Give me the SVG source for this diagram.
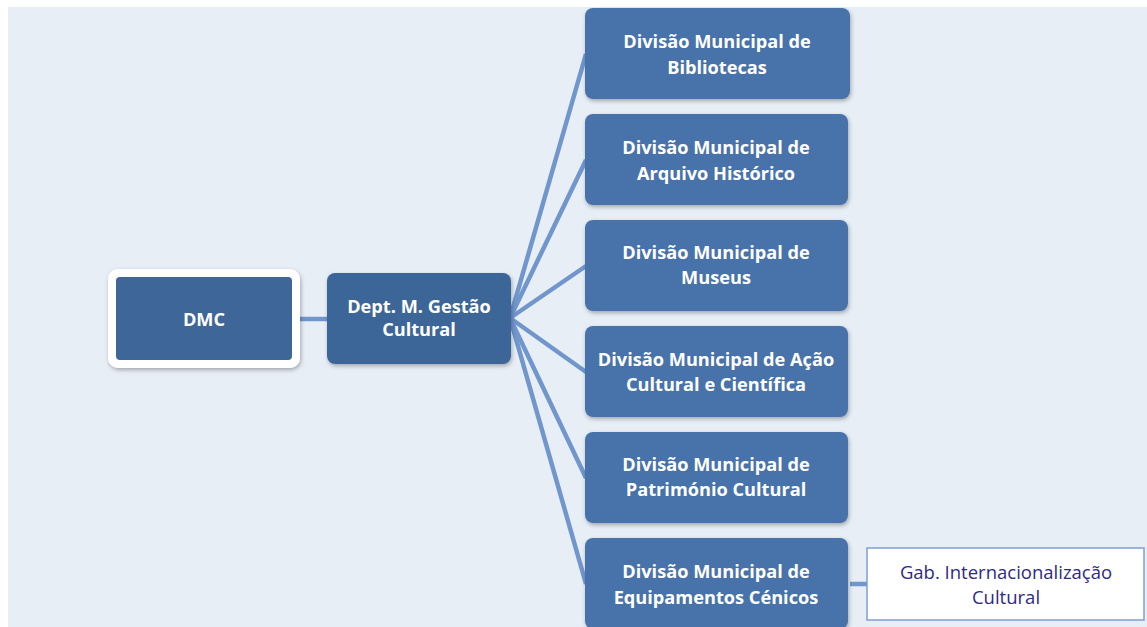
<svg xmlns="http://www.w3.org/2000/svg" width="1147" height="627" viewBox="0 0 1147 627">
<defs>
<filter id="sh" x="-10%" y="-10%" width="125%" height="130%">
<feDropShadow dx="1" dy="2" stdDeviation="2" flood-color="#000" flood-opacity="0.3"/>
</filter>
<style>
.div{fill:#4672AA;filter:url(#sh)}
.dark{fill:#3E6698;filter:url(#sh)}
.t{font-family:"Open Sans","Liberation Sans",sans-serif;font-weight:bold;font-size:18.2px;fill:#fff;text-anchor:middle}
.c{stroke:#7196CC;stroke-width:4.5;fill:none}
.g{font-family:"Open Sans","Liberation Sans",sans-serif;font-size:18.5px;fill:#2E2A85;text-anchor:middle}
</style>
</defs>
<rect x="0" y="0" width="1147" height="627" fill="#fff"/>
<rect x="8" y="7" width="1139" height="620" fill="#E7EEF6"/>
<g id="connectors">
<line class="c" x1="300" y1="319" x2="327" y2="319"/>
<line class="c" x1="510" y1="318" x2="586" y2="54"/>
<line class="c" x1="510" y1="318" x2="586" y2="160"/>
<line class="c" x1="510" y1="318" x2="586" y2="266"/>
<line class="c" x1="510" y1="318" x2="586" y2="372"/>
<line class="c" x1="510" y1="318" x2="586" y2="478"/>
<line class="c" x1="510" y1="318" x2="586" y2="584"/>
<line class="c" x1="850" y1="584" x2="867" y2="584"/>
</g>
<g id="dmc">
<rect x="108" y="269" width="192" height="99" rx="10" fill="#fff" filter="url(#sh)"/>
<rect x="116" y="277" width="176" height="83" rx="4" fill="#3E6698"/>
<text class="t" x="204" y="326">DMC</text>
</g>
<g id="dept">
<rect class="dark" x="327" y="273" width="184" height="91" rx="8"/>
<text class="t" x="419" y="313">Dept. M. Gestão</text>
<text class="t" x="419" y="336">Cultural</text>
</g>
<g id="d1">
<rect class="div" x="585" y="8" width="265" height="91" rx="8"/>
<text class="t" x="717" y="48">Divisão Municipal de</text>
<text class="t" x="717" y="74">Bibliotecas</text>
</g>
<g id="d2">
<rect class="div" x="585" y="114" width="263" height="91" rx="8"/>
<text class="t" x="716" y="154">Divisão Municipal de</text>
<text class="t" x="716" y="180">Arquivo Histórico</text>
</g>
<g id="d3">
<rect class="div" x="585" y="220" width="263" height="91" rx="8"/>
<text class="t" x="716" y="259">Divisão Municipal de</text>
<text class="t" x="716" y="284">Museus</text>
</g>
<g id="d4">
<rect class="div" x="585" y="326" width="263" height="91" rx="8"/>
<text class="t" x="716" y="366">Divisão Municipal de Ação</text>
<text class="t" x="716" y="391">Cultural e Científica</text>
</g>
<g id="d5">
<rect class="div" x="585" y="432" width="263" height="91" rx="8"/>
<text class="t" x="716" y="471">Divisão Municipal de</text>
<text class="t" x="716" y="496">Património Cultural</text>
</g>
<g id="d6">
<rect class="div" x="585" y="538" width="263" height="91" rx="8"/>
<text class="t" x="716" y="578">Divisão Municipal de</text>
<text class="t" x="716" y="604">Equipamentos Cénicos</text>
</g>
<g id="gab">
<rect x="867" y="548" width="277" height="72" fill="#fff" stroke="#7F9FD0" stroke-width="1.5"/>
<text class="g" x="1006" y="579">Gab. Internacionalização</text>
<text class="g" x="1006" y="604">Cultural</text>
</g>
</svg>
